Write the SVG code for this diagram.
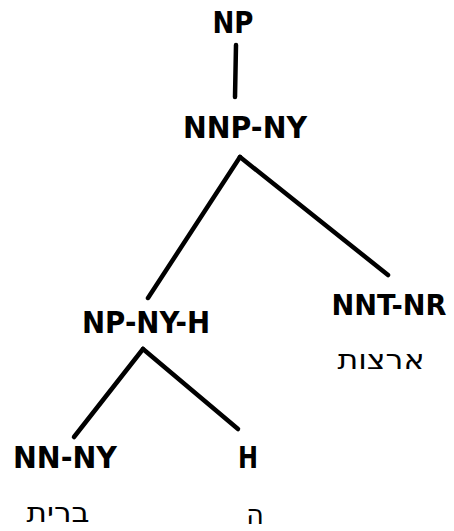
<svg xmlns="http://www.w3.org/2000/svg" width="454" height="531" viewBox="0 0 454 531">
<style>
.lbl{font-family:"DejaVu Sans","Liberation Sans",sans-serif;font-weight:bold;font-size:30px;fill:#000;text-anchor:middle}
.heb{font-family:"DejaVu Sans","Liberation Sans",sans-serif;font-size:27px;fill:#000;text-anchor:middle}
.edge{stroke:#000;stroke-width:4.5;stroke-linecap:round;fill:none}
</style>
<rect width="454" height="531" fill="#fff"/>
<g id="connectors">
<line class="edge" x1="236" y1="45" x2="235" y2="97"/>
<line class="edge" x1="240" y1="157" x2="148" y2="298"/>
<line class="edge" x1="240" y1="157" x2="388" y2="275"/>
<line class="edge" x1="143" y1="349" x2="74" y2="437"/>
<line class="edge" x1="143" y1="349" x2="238" y2="429"/>
</g>
<g id="np"><text class="lbl" x="233" y="33" textLength="41" lengthAdjust="spacingAndGlyphs">NP</text></g>
<g id="nnp-ny"><text class="lbl" x="245" y="138" textLength="124" lengthAdjust="spacingAndGlyphs">NNP-NY</text></g>
<g id="np-ny-h"><text class="lbl" x="146" y="333" textLength="128" lengthAdjust="spacingAndGlyphs">NP-NY-H</text></g>
<g id="nnt-nr"><text class="lbl" x="389" y="315" style="font-size:28px" textLength="115" lengthAdjust="spacingAndGlyphs">NNT-NR</text>
<text class="heb" x="381" y="369" textLength="87" lengthAdjust="spacingAndGlyphs">ארצות</text></g>
<g id="nn-ny"><text class="lbl" x="65" y="468" textLength="104" lengthAdjust="spacingAndGlyphs">NN-NY</text>
<text class="heb" x="58" y="522" textLength="63" lengthAdjust="spacingAndGlyphs">ברית</text></g>
<g id="h"><text class="lbl" x="248" y="468" textLength="20" lengthAdjust="spacingAndGlyphs">H</text>
<text class="heb" x="255" y="524">ה</text></g>
</svg>
